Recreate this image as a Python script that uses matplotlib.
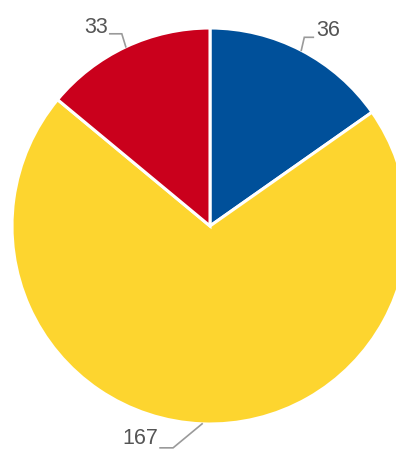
import matplotlib
matplotlib.use("Agg")
import matplotlib.pyplot as plt
import numpy as np

labels = ["36", "167", "33"]
values = [36, 167, 33]
colors = ["#00509A", "#FDD52F", "#CA001C"]

W, H = 396, 451
fig = plt.figure(figsize=(W / 100, H / 100), dpi=100)
ax = fig.add_axes([0, 0, 1, 1])

cx, cy, R = 210, H - 226, 198
wedges, _ = ax.pie(values, colors=colors, startangle=90, counterclock=False,
                   center=(cx, cy), radius=R,
                   wedgeprops=dict(edgecolor="white", linewidth=2.2))
ax.set_xlim(0, W)
ax.set_ylim(0, H)
ax.set_aspect("equal")
ax.axis("off")

# leader styles: (elbow dx, elbow dy, horizontal length, text gap, text dy)
styles = [(3, 13, 9, 3, 1), (-29, -24, -13, -2, 3.5), (-4, 13, -12, -2, 1)]
for w, lab, (edx, edy, hl, gap, tdy) in zip(wedges, labels, styles):
    ang = np.deg2rad((w.theta1 + w.theta2) / 2)
    ax_ = cx + R * np.cos(ang)
    ay_ = cy + R * np.sin(ang)
    ex, ey = ax_ + edx, ay_ + edy
    fx = ex + hl
    ax.plot([ax_, ex, fx], [ay_, ey, ey], color="#9a9a9a", lw=1.2,
            solid_joinstyle="miter", clip_on=False)
    ha = "left" if hl > 0 else "right"
    ax.text(fx + gap, ey + tdy, lab, ha=ha, va="baseline", fontsize=15.5,
            color="#555555", family="Liberation Sans")

fig.savefig("out.png", dpi=100)
